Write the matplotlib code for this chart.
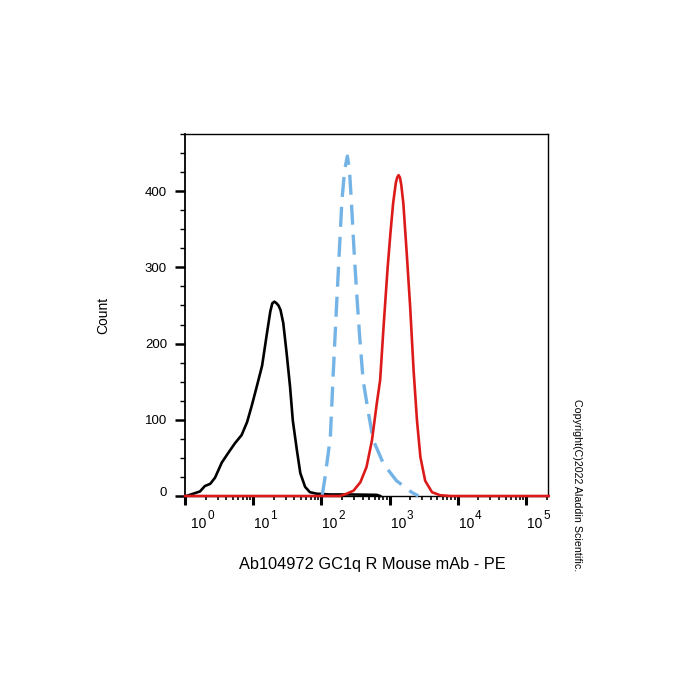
import numpy as np
import matplotlib
matplotlib.use("Agg")
import matplotlib.pyplot as plt
from matplotlib.transforms import ScaledTranslation

plt.rcParams['font.family'] = ['Liberation Sans', 'DejaVu Sans']

# ---- data (x as log10 of fluorescence, y = count) ----
black_log10_x = [0.02, 0.12, 0.22, 0.29, 0.37, 0.44, 0.54, 0.63, 0.73, 0.83, 0.91, 0.98,
                 1.05, 1.13, 1.20, 1.25, 1.28, 1.31, 1.34, 1.37, 1.40, 1.44, 1.49, 1.54,
                 1.58, 1.64, 1.69, 1.76, 1.83, 1.93, 2.13, 2.42, 2.81, 2.86]
black_count = [0, 3, 6, 13, 16, 24, 44, 56, 69, 80, 97, 119,
               143, 171, 213, 242, 253, 255, 253, 250, 244, 227, 187, 143,
               99, 60, 30, 12, 5, 3, 2, 2, 1.5, 0]

blue_log10_x = [2.01, 2.05, 2.13, 2.17, 2.22, 2.26, 2.30, 2.34, 2.38, 2.41, 2.44, 2.48,
                2.52, 2.56, 2.61, 2.69, 2.76, 2.91, 3.10, 3.32, 3.42]
blue_count = [0, 23, 77, 156, 248, 318, 388, 428, 446, 428, 384, 318,
              261, 209, 152, 108, 73, 42, 20, 5, 0]

red_log10_x = [0.0, 2.27, 2.37, 2.47, 2.57, 2.66, 2.74, 2.81, 2.86, 2.91, 2.97, 3.01,
               3.05, 3.09, 3.11, 3.13, 3.15, 3.17, 3.20, 3.25, 3.30, 3.35, 3.40, 3.45,
               3.52, 3.62, 3.74, 3.89, 5.33]
red_count = [0, 0, 3, 7, 18, 38, 73, 121, 152, 222, 300, 344,
             384, 411, 418, 421, 418, 408, 384, 318, 248, 165, 99, 51,
             20, 5, 1, 0, 0]

decades = [0, 1, 2, 3, 4, 5]
ytick_values = [0, 100, 200, 300, 400]
xlabel_text = 'Ab104972 GC1q R Mouse mAb - PE'
ylabel_text = 'Count'
copyright_text = 'Copyright(C)2022 Aladdin Scientific.'

# ---- figure ----
fig = plt.figure(figsize=(7, 7), dpi=100)
ax = fig.add_axes([185/700, 1-496/700, (548-185)/700, (496-134)/700])

ax.plot(np.power(10.0, black_log10_x), black_count, color='black', lw=1.9,
        clip_on=False, zorder=3, solid_joinstyle='round')
ax.plot(np.power(10.0, blue_log10_x), blue_count, color='#74b3e6', lw=2.4,
        dashes=(6, 3.0), clip_on=False, zorder=4)
ax.plot(np.power(10.0, red_log10_x), red_count, color='#dd1a1a', lw=1.9,
        clip_on=False, zorder=5, solid_joinstyle='round')

ax.set_xscale('log')
ax.set_xlim(1, 10**5.32)
ax.set_ylim(0, 475)

# x ticks (labels drawn as "10" + raised exponent)
ax.set_xticks([10.0**d for d in decades])
ax.set_xticklabels([''] * len(decades))
minor = [k * 10.0**d for d in range(0, 6) for k in range(2, 10) if k * 10.0**d <= 10**5.32]
ax.set_xticks(minor, minor=True)
ax.set_xticklabels([], minor=True)
ax.tick_params(axis='x', which='major', direction='out', length=6.5, width=2.2)
ax.tick_params(axis='x', which='minor', direction='out', length=3.2, width=1.2)
for d in decades:
    dx = 6 if d == 0 else 1
    ax.annotate('10', xy=(10.0**d, 0), xycoords=('data', 'axes fraction'),
                xytext=(dx, -32), textcoords='offset pixels',
                ha='left', va='baseline', fontsize=10)
    ax.annotate(str(d), xy=(10.0**d, 0), xycoords=('data', 'axes fraction'),
                xytext=(dx + 16, -23), textcoords='offset pixels',
                ha='left', va='baseline', fontsize=8.5)

# y ticks
ax.set_yticks(ytick_values)
ax.set_yticklabels([str(v) for v in ytick_values])
ax.set_yticks(np.arange(25, 476, 25), minor=True)
ax.tick_params(axis='y', which='major', direction='out', length=7, width=1.8,
               labelsize=9.5, pad=6)
ax.tick_params(axis='y', which='minor', direction='out', length=3.6, width=1.0)
ylabs = ax.get_yticklabels()
ylabs[0].set_transform(ylabs[0].get_transform() + ScaledTranslation(0, 5/100, fig.dpi_scale_trans))

for s in ax.spines.values():
    s.set_linewidth(1.0)
ax.spines['left'].set_linewidth(1.3)

fig.text(103/700, 1-315/700, ylabel_text, rotation=90, ha='center', va='center', fontsize=10)
fig.text(372/700, 1-565/700, xlabel_text, ha='center', va='center', fontsize=11.8)
fig.text(577/700, 1-485/700, copyright_text, rotation=-90, ha='center', va='center', fontsize=7.7)

fig.savefig('out.png', dpi=100)
